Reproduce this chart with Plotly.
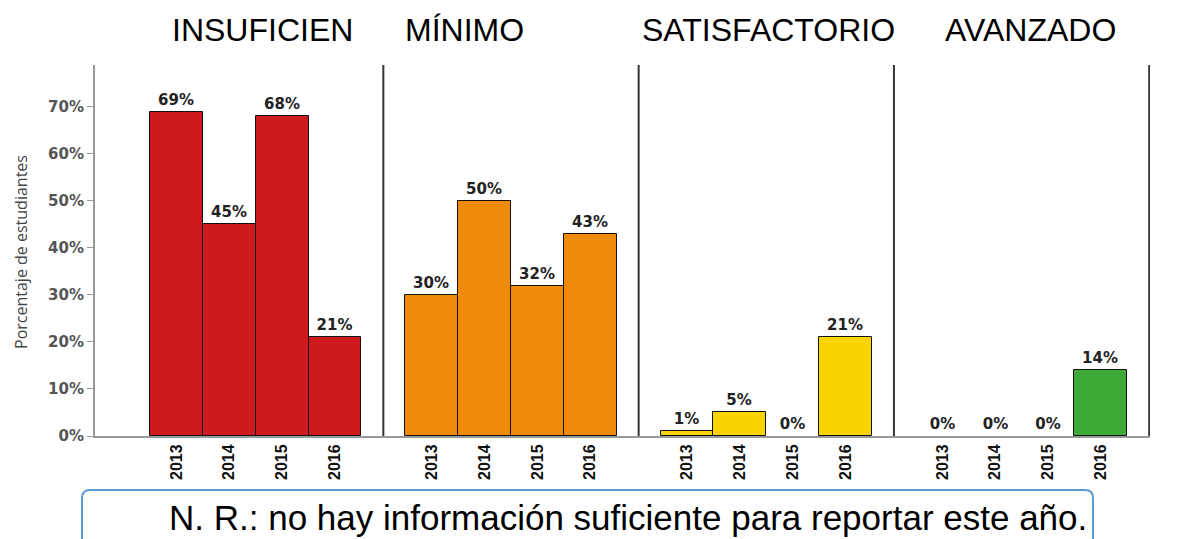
import plotly.graph_objects as go

levels = ["INSUFICIEN", "MÍNIMO", "SATISFACTORIO", "AVANZADO"]
years = ["2013", "2014", "2015", "2016"]
insuficiente = [69, 45, 68, 21]
minimo = [30, 50, 32, 43]
satisfactorio = [1, 5, 0, 21]
avanzado = [0, 0, 0, 14]
colors = ["#cd1a1c", "#ef8a0b", "#fbd300", "#3caa35"]
note = "N. R.: no hay información suficiente para reportar este año."

series = [insuficiente, minimo, satisfactorio, avanzado]
period = 256 / 53  # group spacing in bar widths

fig = go.Figure()
tickvals, ticktext = [], []
for g, (vals, col) in enumerate(zip(series, colors)):
    xs = [g * period + j for j in range(len(years))]
    tickvals += xs
    ticktext += years
    fig.add_trace(go.Bar(
        x=xs, y=vals, width=1,
        marker=dict(color=col, line=dict(color="#111", width=[1 if v else 0 for v in vals])),
        text=[f"{v}%" for v in vals], textposition="outside", cliponaxis=False,
        textfont=dict(family="DejaVu Sans", size=15, color="#222", weight="bold"),
        showlegend=False))

# group separators
for g in range(len(levels)):
    xd = g * period + 3.5 + (period - 4) / 2
    fig.add_shape(type="line", xref="x", yref="paper", x0=xd, x1=xd, y0=0, y1=1,
                  line=dict(color="#333", width=2))

# headers
head_px = [262, 464, 768, 1030]
for name, px in zip(levels, head_px):
    fig.add_annotation(text=name, xref="paper", yref="paper", x=(px - 95) / 1055, y=1.094,
                       showarrow=False, xanchor="center", yanchor="middle",
                       font=dict(family="Liberation Sans", size=32, color="#000"))

# y axis title
fig.add_annotation(text="Porcentaje de estudiantes", xref="paper", yref="paper",
                   x=(21 - 95) / 1055, y=0.496, textangle=-90, showarrow=False,
                   xanchor="center", yanchor="middle", borderpad=0,
                   font=dict(family="Open Sans", size=16, color="#444"))

# note box with rounded top corners
x0, x1 = -13 / 1055, 998 / 1055
y0, y1 = -0.32, -54 / 371
rx, ry = 8 / 1055, 8 / 371
path = (f"M {x0},{y0} L {x0},{y1 - ry} Q {x0},{y1} {x0 + rx},{y1} "
        f"L {x1 - rx},{y1} Q {x1},{y1} {x1},{y1 - ry} L {x1},{y0}")
fig.add_shape(type="path", xref="paper", yref="paper", path=path,
              line=dict(color="#5b9bd5", width=2))
fig.add_annotation(text=note, xref="paper", yref="paper", x=(628 - 95) / 1055, y=-102 / 371,
                   showarrow=False, xanchor="center", yanchor="bottom", borderpad=0,
                   font=dict(family="Liberation Sans", size=35, color="#000"))

fig.update_layout(
    width=1172, height=531, margin=dict(l=87, r=30, t=57, b=103),
    plot_bgcolor="white", paper_bgcolor="white", bargap=0,
    xaxis=dict(range=[-1.54, 18.42], tickvals=tickvals, ticktext=ticktext, tickangle=-90,
               showline=True, linecolor="#999", linewidth=2, showgrid=False, zeroline=False,
               ticks="", tickfont=dict(family="Liberation Sans", size=16, color="#111", weight="bold")),
    yaxis=dict(range=[0, 78.9], tickvals=[0, 10, 20, 30, 40, 50, 60, 70],
               ticktext=["0%", "10%", "20%", "30%", "40%", "50%", "60%", "70%"],
               showline=True, linecolor="#999", linewidth=2, showgrid=False, zeroline=False,
               ticks="outside", ticklen=6, tickcolor="#999",
               tickfont=dict(family="DejaVu Sans", size=15, color="#555", weight="bold")),
)

fig.write_html("out.html")
